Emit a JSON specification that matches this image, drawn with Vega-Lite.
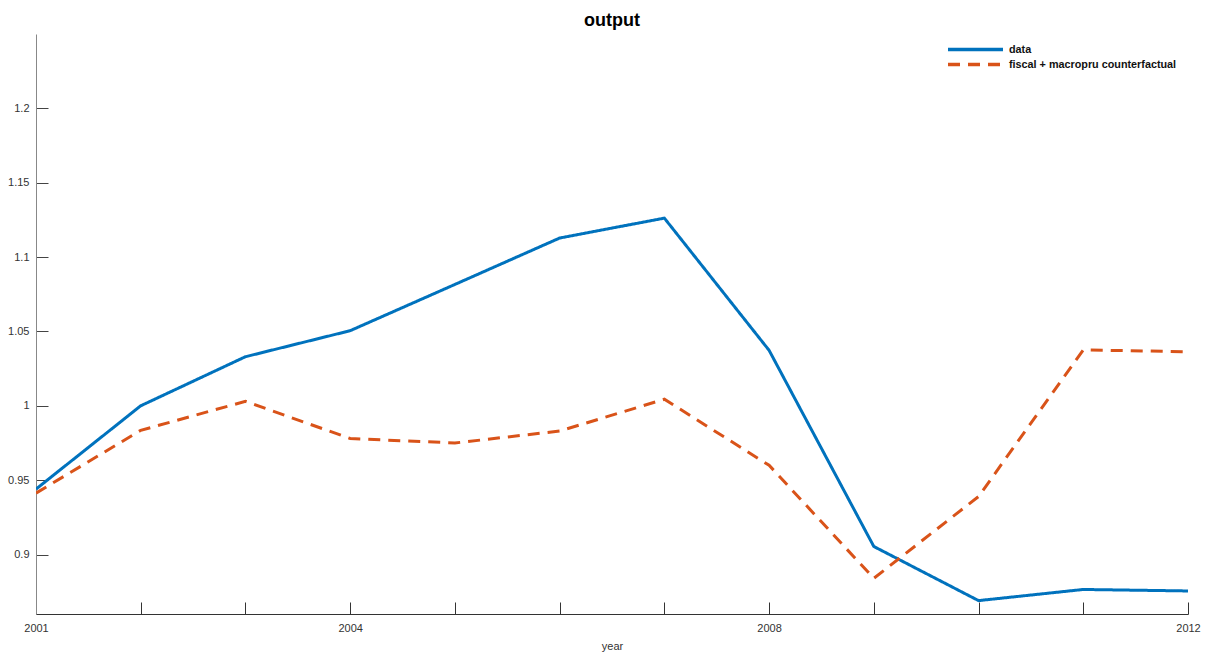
{
  "$schema": "https://vega.github.io/schema/vega-lite/v6.json",
  "width": 1152,
  "height": 580,
  "autosize": {"type": "none"},
  "padding": {"left": 36, "top": 34, "right": 20, "bottom": 39},
  "background": "white",
  "title": {"text": "output", "fontSize": 18, "fontWeight": "bold", "font": "Liberation Sans", "color": "#000", "offset": 4},
  "config": {"view": {"stroke": null}, "font": "Liberation Sans"},
  "data": {"values": [
    {"year": 2001, "series": "data", "value": 0.944},
    {"year": 2002, "series": "data", "value": 1.000},
    {"year": 2003, "series": "data", "value": 1.033},
    {"year": 2004, "series": "data", "value": 1.0505},
    {"year": 2005, "series": "data", "value": 1.0816},
    {"year": 2006, "series": "data", "value": 1.1128},
    {"year": 2007, "series": "data", "value": 1.1262},
    {"year": 2008, "series": "data", "value": 1.0373},
    {"year": 2009, "series": "data", "value": 0.9054},
    {"year": 2010, "series": "data", "value": 0.869},
    {"year": 2011, "series": "data", "value": 0.8765},
    {"year": 2012, "series": "data", "value": 0.8755},
    {"year": 2001, "series": "fiscal + macropru counterfactual", "value": 0.9413},
    {"year": 2002, "series": "fiscal + macropru counterfactual", "value": 0.9835},
    {"year": 2003, "series": "fiscal + macropru counterfactual", "value": 1.003},
    {"year": 2004, "series": "fiscal + macropru counterfactual", "value": 0.978},
    {"year": 2005, "series": "fiscal + macropru counterfactual", "value": 0.975},
    {"year": 2006, "series": "fiscal + macropru counterfactual", "value": 0.983},
    {"year": 2007, "series": "fiscal + macropru counterfactual", "value": 1.0044},
    {"year": 2008, "series": "fiscal + macropru counterfactual", "value": 0.96},
    {"year": 2009, "series": "fiscal + macropru counterfactual", "value": 0.884},
    {"year": 2010, "series": "fiscal + macropru counterfactual", "value": 0.939},
    {"year": 2011, "series": "fiscal + macropru counterfactual", "value": 1.0376},
    {"year": 2012, "series": "fiscal + macropru counterfactual", "value": 1.0363}
  ]},
  "mark": {"type": "line", "strokeWidth": 3, "clip": true},
  "encoding": {
    "x": {
      "field": "year", "type": "quantitative",
      "scale": {"domain": [2001, 2012], "nice": false, "zero": false},
      "axis": {
        "title": "year", "titleFontSize": 11, "titleFontWeight": "normal", "titleColor": "#333", "titlePadding": 7,
        "values": [2001,2002,2003,2004,2005,2006,2007,2008,2009,2010,2011,2012],
        "format": "d",
        "labelExpr": "indexof([2001,2004,2008,2012], datum.value) >= 0 ? datum.label : ''",
        "labelFontSize": 11, "labelColor": "#333", "labelPadding": 20,
        "tickSize": -12, "tickColor": "#333", "domainColor": "#333", "grid": false, "labelFlush": false
      }
    },
    "y": {
      "field": "value", "type": "quantitative",
      "scale": {"domain": [0.86, 1.25], "nice": false, "zero": false},
      "axis": {
        "title": null,
        "values": [0.9, 0.95, 1, 1.05, 1.1, 1.15, 1.2],
        "format": "~g",
        "labelFontSize": 11, "labelColor": "#333", "labelPadding": 19,
        "tickSize": -12, "tickColor": "#444", "domainColor": "#888", "grid": false
      }
    },
    "color": {
      "field": "series", "type": "nominal",
      "scale": {"domain": ["data", "fiscal + macropru counterfactual"], "range": ["#0072BD", "#D95319"]},
      "legend": {
        "title": null, "orient": "none", "legendX": 932, "legendY": 8,
        "symbolType": "M-5,0H5", "symbolSize": 121, "symbolStrokeWidth": 3.5,
        "labelFontSize": 10.8, "labelFontWeight": "bold", "labelColor": "#111", "labelLimit": 400,
        "rowPadding": 0, "labelOffset": 26
      }
    },
    "strokeDash": {
      "field": "series", "type": "nominal",
      "scale": {"domain": ["data", "fiscal + macropru counterfactual"], "range": [[1, 0], [12, 8]]},
      "legend": null
    }
  }
}
